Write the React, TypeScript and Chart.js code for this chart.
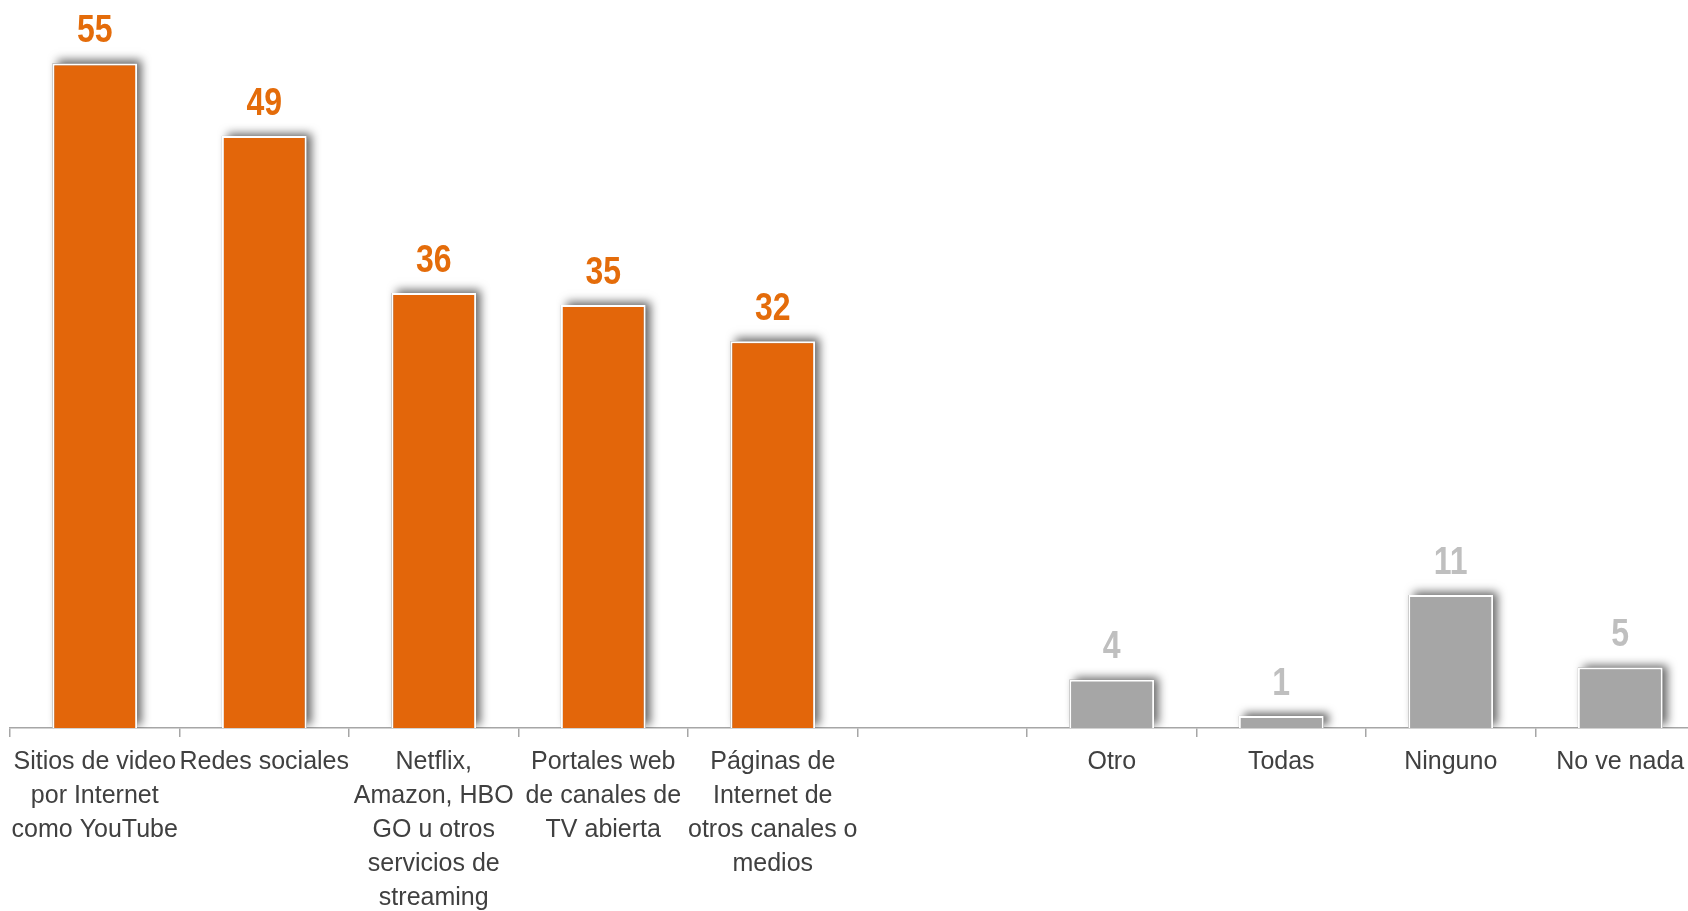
import React, { useEffect, useRef } from "react";
import { Chart, registerables } from "chart.js";

Chart.register(...registerables);

const categories: string[][] = [
  ["Sitios de video", "por Internet", "como YouTube"],
  ["Redes sociales"],
  ["Netflix,", "Amazon, HBO", "GO u otros", "servicios de", "streaming"],
  ["Portales web", "de canales de", "TV abierta"],
  ["Páginas de", "Internet de", "otros canales o", "medios"],
  [""],
  ["Otro"],
  ["Todas"],
  ["Ninguno"],
  ["No ve nada"],
];

const values: (number | null)[] = [55, 49, 36, 35, 32, null, 4, 1, 11, 5];
const groups: string[] = ["main", "main", "main", "main", "main", "gap", "other", "other", "other", "other"];

const FONT = '"Liberation Sans", Arial, sans-serif';
const ORANGE = "#E3660A";
const ORANGE_LABEL = "#E46C0A";
const GRAY = "#A6A6A6";
const GRAY_LABEL = "#BFBFBF";

const shadowPlugin = {
  id: "barShadow",
  beforeDatasetsDraw(chart: any) {
    const { ctx, chartArea } = chart;
    const meta = chart.getDatasetMeta(0);
    ctx.save();
    ctx.beginPath();
    ctx.rect(chartArea.left, 0, chartArea.right - chartArea.left, chartArea.bottom);
    ctx.clip();
    meta.data.forEach((el: any, i: number) => {
      if (values[i] == null) return;
      const { x, y, base, width } = el.getProps(["x", "y", "base", "width"], true);
      ctx.shadowColor = "rgba(0,0,0,0.6)";
      ctx.shadowBlur = 9;
      ctx.shadowOffsetX = 5;
      ctx.shadowOffsetY = -3;
      ctx.fillStyle = "#888888";
      ctx.fillRect(x - width / 2, y, width, base - y);
    });
    ctx.restore();
  },
};

const labelPlugin = {
  id: "valueLabels",
  afterDatasetsDraw(chart: any) {
    const { ctx } = chart;
    const meta = chart.getDatasetMeta(0);
    meta.data.forEach((el: any, i: number) => {
      const v = values[i];
      if (v == null) return;
      const { x, y } = el.getProps(["x", "y"], true);
      ctx.save();
      ctx.font = `bold 39px ${FONT}`;
      ctx.textAlign = "center";
      ctx.textBaseline = "middle";
      ctx.fillStyle = groups[i] === "main" ? ORANGE_LABEL : GRAY_LABEL;
      ctx.translate(x, y - 32);
      ctx.scale(0.82, 1);
      ctx.fillText(String(v), 0, 0);
      ctx.restore();
    });
  },
};

export default function App() {
  const ref = useRef<HTMLCanvasElement | null>(null);

  useEffect(() => {
    if (!ref.current) return;
    const chart = new Chart(ref.current, {
      type: "bar",
      data: {
        labels: categories as any,
        datasets: [
          {
            data: values as any,
            backgroundColor: groups.map((g) => (g === "main" ? ORANGE : GRAY)),
            borderColor: "#FFFFFF",
            borderWidth: 2,
            barPercentage: 0.5,
            categoryPercentage: 1,
          },
        ],
      },
      options: {
        responsive: false,
        animation: false,
        devicePixelRatio: 1,
        layout: { padding: { left: 10, right: 5, top: 3, bottom: 0 } },
        plugins: { legend: { display: false }, tooltip: { enabled: false } },
        scales: {
          x: {
            offset: true,
            grid: {
              display: true,
              drawOnChartArea: false,
              drawTicks: true,
              tickLength: 9,
              color: "#A6A6A6",
              lineWidth: 1.5,
              offset: true,
            },
            border: { display: true, color: "#A6A6A6", width: 1.5 },
            ticks: {
              autoSkip: false,
              maxRotation: 0,
              minRotation: 0,
              padding: 8,
              color: "#404040",
              font: { family: FONT, size: 25, lineHeight: 34 / 25 },
            },
            afterFit: (scale: any) => {
              scale.height = 183;
            },
          },
          y: { display: false, min: 0, max: 60 },
        },
      },
      plugins: [shadowPlugin, labelPlugin],
    });
    return () => chart.destroy();
  }, []);

  return (
    <div
      style={{
        position: "absolute",
        left: 0,
        top: 0,
        width: 1688,
        height: 911,
        overflow: "hidden",
        background: "#FFFFFF",
      }}
    >
      <canvas ref={ref} width={1710} height={911} style={{ display: "block", width: 1710, height: 911 }} />
    </div>
  );
}
